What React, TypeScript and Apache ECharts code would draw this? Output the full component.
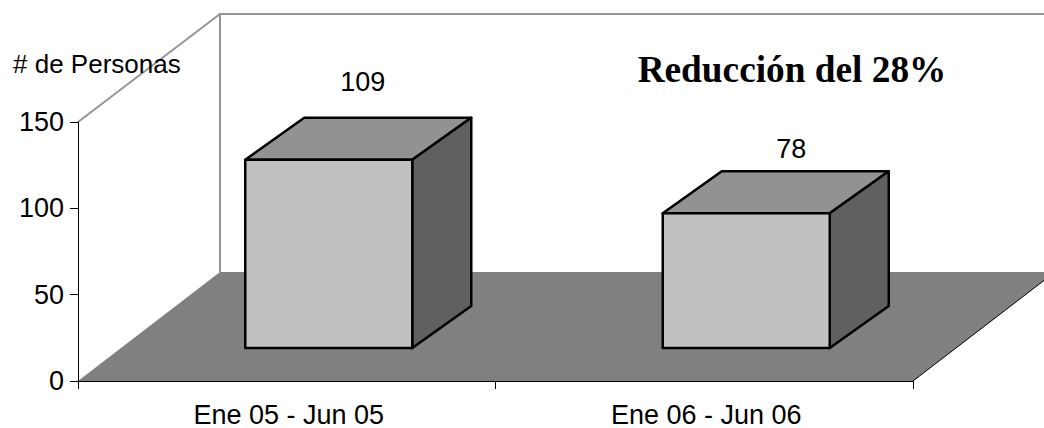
import React, { useEffect, useRef } from "react";
import * as echarts from "echarts";

const categories = ["Ene 05 - Jun 05", "Ene 06 - Jun 06"];
const personas = [109, 78];
const yTicks = { min: 0, max: 150, interval: 50 };
const yAxisTitle = "# de Personas";
const note = "Reducción del 28%";

// Oblique projection used to fake the 3D look, in pixels.
const WALL_DEPTH = { dx: 142, dy: -109 };
const BAR_DEPTH = { dx: 59, dy: -42 };
const BAR_SHIFT = { dx: 42, dy: -33 };
const BAR_WIDTH_RATIO = 0.4;
const LABEL_SHIFT = [
  { dx: 34, dy: -69 },
  { dx: 45, dy: -55 },
];

const SANS = '"Liberation Sans", Arial, sans-serif';
const SERIF = '"Liberation Serif", "Times New Roman", serif';

function renderStage(params: any) {
  const { x, y, width, height } = params.coordSys;
  const b = y + height;
  const r = x + width;
  const { dx, dy } = WALL_DEPTH;
  const wall = { stroke: "#969696", lineWidth: 2, fill: "none" };
  return {
    type: "group",
    children: [
      {
        type: "polygon",
        shape: { points: [[x, b], [x + dx, b + dy], [r + dx, b + dy], [r, b]] },
        style: { fill: "#808080" },
      },
      {
        type: "line",
        shape: { x1: r, y1: b, x2: r + dx, y2: b + dy },
        style: { stroke: "#000", lineWidth: 1 },
      },
      {
        type: "polyline",
        shape: { points: [[x, y], [x + dx, y + dy + 1], [r + dx, y + dy + 1]] },
        style: wall,
      },
      {
        type: "line",
        shape: { x1: x + dx, y1: y + dy, x2: x + dx, y2: b + dy },
        style: wall,
      },
    ],
  };
}

function renderBar(params: any, api: any) {
  const i = api.value(0);
  const v = api.value(1);
  const top = api.coord([i, v]);
  const base = api.coord([i, 0]);
  const w = api.size([1, 0])[0] * BAR_WIDTH_RATIO;
  const l = top[0] - w / 2 + BAR_SHIFT.dx;
  const rr = l + w;
  const t = top[1] + BAR_SHIFT.dy;
  const bt = base[1] + BAR_SHIFT.dy;
  const { dx, dy } = BAR_DEPTH;
  const edge = { stroke: "#000", lineWidth: 2.5, lineJoin: "round" };
  return {
    type: "group",
    children: [
      {
        type: "polygon",
        shape: { points: [[l, t], [l + dx, t + dy], [rr + dx, t + dy], [rr, t]] },
        style: { fill: "#929292", ...edge },
      },
      {
        type: "polygon",
        shape: { points: [[rr, t], [rr + dx, t + dy], [rr + dx, bt + dy], [rr, bt]] },
        style: { fill: "#606060", ...edge },
      },
      {
        type: "rect",
        shape: { x: l, y: t, width: w, height: bt - t },
        style: { fill: "#c0c0c0", ...edge },
      },
      {
        type: "text",
        style: {
          x: top[0] + LABEL_SHIFT[i].dx + BAR_SHIFT.dx,
          y: top[1] + LABEL_SHIFT[i].dy + BAR_DEPTH.dy,
          text: String(v),
          fill: "#000",
          font: `27px ${SANS}`,
          align: "center",
          verticalAlign: "middle",
        },
      },
    ],
  };
}

export default function App() {
  const ref = useRef<HTMLDivElement>(null);
  useEffect(() => {
    const chart = echarts.init(ref.current!, undefined, { renderer: "svg" });
    chart.setOption({
      animation: false,
      backgroundColor: "#fff",
      grid: { left: 78, right: 131, top: 122, bottom: 47, containLabel: false },
      xAxis: {
        type: "category",
        data: categories,
        z: 5,
        axisLine: { lineStyle: { color: "#000", width: 1 } },
        axisTick: { show: true, alignWithLabel: false, length: 8, lineStyle: { color: "#000" } },
        axisLabel: { color: "#000", fontFamily: SANS, fontSize: 27, margin: 20, padding: [0, 0, 0, 4], hideOverlap: false, interval: 0 },
        splitLine: { show: false },
      },
      yAxis: {
        type: "value",
        min: yTicks.min,
        max: yTicks.max,
        interval: yTicks.interval,
        z: 5,
        axisLine: { show: true, lineStyle: { color: "#000", width: 1 } },
        axisTick: { show: true, length: 8, lineStyle: { color: "#000" } },
        axisLabel: { color: "#000", fontFamily: SANS, fontSize: 27, margin: 14 },
        splitLine: { show: false },
      },
      graphic: [
        {
          type: "text",
          z: 10,
          style: { x: 13, y: 64, text: yAxisTitle, fill: "#000", font: `26px ${SANS}`, verticalAlign: "middle" },
        },
        {
          type: "text",
          z: 10,
          style: { x: 792, y: 69, text: note, fill: "#000", font: `bold 37.3px ${SERIF}`, align: "center", verticalAlign: "middle" },
        },
      ],
      series: [
        {
          type: "custom",
          z: 1,
          silent: true,
          data: [[0]],
          renderItem: renderStage,
        },
        {
          type: "custom",
          z: 3,
          silent: true,
          encode: { x: 0, y: 1 },
          data: personas.map((v, i) => [i, v]),
          renderItem: renderBar,
        },
      ],
    });
    return () => chart.dispose();
  }, []);
  return <div ref={ref} style={{ position: "fixed", left: 0, top: 0, width: 1044, height: 428 }} />;
}
